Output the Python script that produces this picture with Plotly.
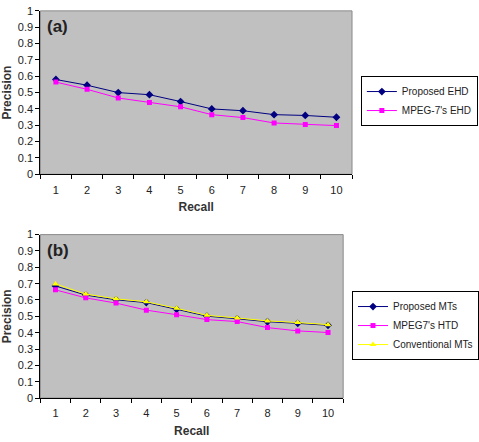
import plotly.graph_objects as go

recall = [1, 2, 3, 4, 5, 6, 7, 8, 9, 10]

# Panel (a)
proposed_ehd = [0.58, 0.545, 0.50, 0.487, 0.445, 0.40, 0.389, 0.365, 0.36, 0.349]
mpeg7_ehd = [0.564, 0.52, 0.467, 0.44, 0.413, 0.365, 0.347, 0.314, 0.304, 0.298]

# Panel (b)
proposed_mts = [0.686, 0.630, 0.601, 0.584, 0.543, 0.501, 0.485, 0.467, 0.457, 0.445]
mpeg7_htd = [0.662, 0.613, 0.581, 0.538, 0.51, 0.48, 0.468, 0.431, 0.411, 0.401]
conventional_mts = [0.698, 0.636, 0.607, 0.589, 0.549, 0.506, 0.49, 0.472, 0.462, 0.449]

y_ticks = [0, 0.1, 0.2, 0.3, 0.4, 0.5, 0.6, 0.7, 0.8, 0.9, 1]

W, H = 479, 442
FONT = "Liberation Sans, Arial, sans-serif"
NAVY = "#000080"
MAG = "#FF00FF"
YEL = "#FFFF00"
BG = "#C0C0C0"

fig = go.Figure()

fig.add_trace(go.Scatter(x=recall, y=proposed_ehd, name="Proposed EHD", mode="lines+markers",
                         line=dict(color=NAVY, width=1), marker=dict(symbol="diamond", size=6, color=NAVY),
                         xaxis="x", yaxis="y", legend="legend"))
fig.add_trace(go.Scatter(x=recall, y=mpeg7_ehd, name="MPEG-7's EHD", mode="lines+markers",
                         line=dict(color=MAG, width=1), marker=dict(symbol="square", size=5, color=MAG),
                         xaxis="x", yaxis="y", legend="legend"))

fig.add_trace(go.Scatter(x=recall, y=proposed_mts, name="Proposed MTs", mode="lines+markers",
                         line=dict(color=NAVY, width=1), marker=dict(symbol="diamond", size=6, color=NAVY),
                         xaxis="x2", yaxis="y2", legend="legend2"))
fig.add_trace(go.Scatter(x=recall, y=mpeg7_htd, name="MPEG7's HTD", mode="lines+markers",
                         line=dict(color=MAG, width=1), marker=dict(symbol="square", size=5, color=MAG),
                         xaxis="x2", yaxis="y2", legend="legend2"))
fig.add_trace(go.Scatter(x=recall, y=conventional_mts, name="Conventional MTs", mode="lines+markers",
                         line=dict(color=YEL, width=1), marker=dict(symbol="triangle-up", size=6, color=YEL),
                         xaxis="x2", yaxis="y2", legend="legend2"))

def xax(domain, anchor):
    return dict(domain=domain, anchor=anchor, range=[0.5, 10.5], tickmode="array", tickvals=recall,
                ticks="", showgrid=False, zeroline=False, showline=True, linecolor="black", linewidth=1,
                ticklabelstandoff=5,
                tickfont=dict(family=FONT, size=11, color="#222"),
                minor=dict(tickmode="array", tickvals=[i + 0.5 for i in range(0, 11)], ticks="outside",
                           ticklen=4, tickcolor="black", showgrid=False),
                title=dict(text="<b>Recall</b>", font=dict(family=FONT, size=12, color="#333"), standoff=8),
                fixedrange=True)

def yax(domain, anchor):
    return dict(domain=domain, anchor=anchor, range=[0, 1], tickmode="array", tickvals=y_ticks,
                ticks="outside", ticklen=4, tickcolor="black", showgrid=False, zeroline=False,
                showline=True, linecolor="black", linewidth=1,
                tickfont=dict(family=FONT, size=11, color="#222"),
                title=dict(text="<b>Precision</b>", font=dict(family=FONT, size=12, color="#333"), standoff=4),
                fixedrange=True)

x1d = [41 / W, 358 / W]
y1d = [1 - 173 / H, 1 - 5 / H]
x2d = [41 / W, 349 / W]
y2d = [1 - 403 / H, 1 - 235 / H]

leg_common = dict(xanchor="left", yanchor="top", bgcolor="white", bordercolor="black", borderwidth=1,
                  itemwidth=30, tracegroupgap=0, font=dict(family=FONT, size=10, color="#222"))

fig.update_layout(
    width=W, height=H, margin=dict(l=0, r=0, t=0, b=0),
    paper_bgcolor="white", plot_bgcolor=BG,
    xaxis=xax(x1d, "y"), yaxis=yax(y1d, "x"),
    xaxis2=xax(x2d, "y2"), yaxis2=yax(y2d, "x2"),
    legend=dict(x=367 / W, y=1 - 72 / H, **leg_common),
    legend2=dict(x=358 / W, y=1 - 293 / H, **leg_common),
    annotations=[
        dict(text="<b>(a)</b>", x=46 / W, y=1 - 21 / H, xref="paper", yref="paper", xanchor="left",
             yanchor="middle", showarrow=False, font=dict(family=FONT, size=17, color="#222")),
        dict(text="<b>(b)</b>", x=46 / W, y=1 - 251 / H, xref="paper", yref="paper", xanchor="left",
             yanchor="middle", showarrow=False, font=dict(family=FONT, size=17, color="#222")),
    ],
    shapes=[
        dict(type="rect", xref="paper", yref="paper", x0=x1d[0], x1=x1d[1], y0=y1d[0], y1=y1d[1],
             line=dict(color="#8a8a8a", width=1), layer="below"),
        dict(type="rect", xref="paper", yref="paper", x0=x2d[0], x1=x2d[1], y0=y2d[0], y1=y2d[1],
             line=dict(color="#8a8a8a", width=1), layer="below"),
    ],
)

fig.write_html("out.html")
